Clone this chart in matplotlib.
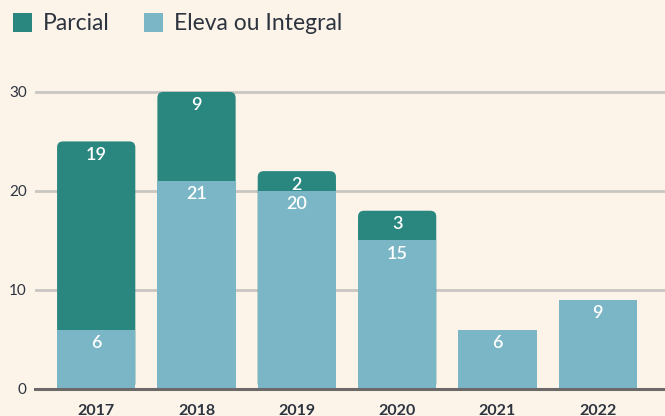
import matplotlib
matplotlib.use("Agg")
import matplotlib.pyplot as plt
from matplotlib.patches import FancyBboxPatch, Patch

years = ["2017", "2018", "2019", "2020", "2021", "2022"]
eleva = [6, 21, 20, 15, 6, 9]
parcial = [19, 9, 2, 3, 0, 0]
yticks = [0, 10, 20, 30]

BG = "#fcf4e8"
TEAL = "#2a8780"
BLUE = "#7bb6c6"
TXT = "#2d3440"

plt.rcParams['font.family'] = ['Lato', 'DejaVu Sans']

fig = plt.figure(figsize=(6.65, 4.16), dpi=100, facecolor=BG)
ax = fig.add_axes([35/665, 27/416, 630/665, 307/416], facecolor=BG)

x = list(range(len(years)))
w = 0.78
totals = [e + p for e, p in zip(eleva, parcial)]

# top (parcial) bars drawn full height with rounded corners, bottom bars over them
pbars = ax.bar(x, totals, width=w, color=TEAL, zorder=2)
for b, p in zip(pbars, parcial):
    b.set_visible(False)
    if p > 0:
        fb = FancyBboxPatch((b.get_x(), b.get_y()), b.get_width(), b.get_height(),
                            boxstyle="round,pad=0,rounding_size=0.06", mutation_aspect=10,
                            facecolor=TEAL, edgecolor="none", zorder=2)
        ax.add_patch(fb)
ebars = ax.bar(x, eleva, width=w, color=BLUE, zorder=3)

for i in x:
    ax.text(i, eleva[i] - 0.55, str(eleva[i]), ha="center", va="top", color="white",
            fontsize=13, fontweight="semibold", zorder=5)
    if parcial[i] > 0:
        ax.text(i, totals[i] - 0.55, str(parcial[i]), ha="center", va="top", color="white",
                fontsize=13, fontweight="semibold", zorder=5)

ax.set_xlim(-0.61, 5.67)
ax.set_ylim(0, 31)
ax.set_yticks(yticks)
ax.set_yticklabels([str(v) for v in yticks])
ax.set_xticks(x)
ax.set_xticklabels(years, fontweight="bold")
ax.yaxis.grid(True, color="#c9c6c3", linewidth=2, zorder=0)
ax.set_axisbelow(True)
for s in ["top", "right", "left"]:
    ax.spines[s].set_visible(False)
ax.spines["bottom"].set_color("#6b6a68")
ax.spines["bottom"].set_linewidth(2.2)
ax.spines["bottom"].set_zorder(4)
ax.tick_params(axis="y", length=0, pad=6, labelsize=11, labelcolor=TXT)
ax.tick_params(axis="x", length=0, pad=11, labelsize=11.5, labelcolor=TXT)

handles = [Patch(facecolor=TEAL, edgecolor="none", label="Parcial"),
           Patch(facecolor=BLUE, edgecolor="none", label="Eleva ou Integral")]
fig.legend(handles=handles, loc="upper left", bbox_to_anchor=(-0.008, 1.012), ncol=2,
           frameon=False, fontsize=16.5, handlelength=0.85, handleheight=0.85,
           handletextpad=0.45, columnspacing=1.5, labelcolor=TXT, borderpad=0.3)

fig.savefig("out.png", dpi=100, facecolor=BG)
